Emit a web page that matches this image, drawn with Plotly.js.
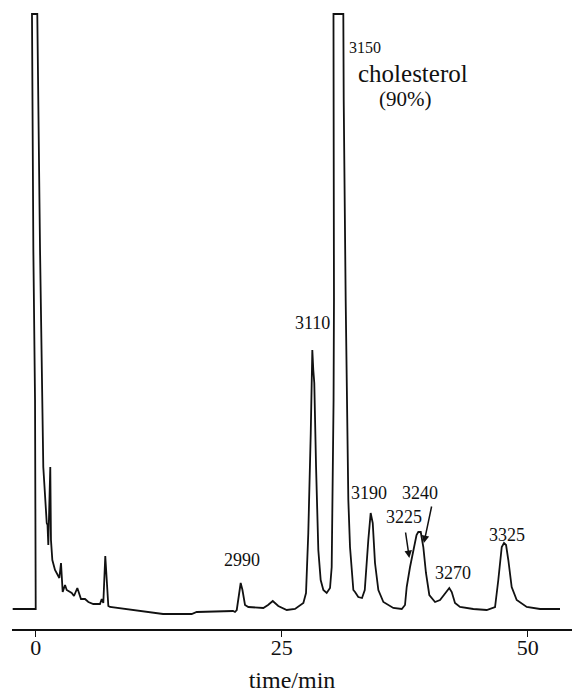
<!DOCTYPE html>
<html>
<head>
<meta charset="utf-8">
<script src="https://cdn.plot.ly/plotly-3.0.1.min.js"></script>
<style>html,body{margin:0;padding:0;background:#fff;}#chart{width:572px;height:693px;}</style>
</head>
<body>
<div id="chart"></div>
<script>
// retention time (min) and detector response (arbitrary units, baseline = 0; 595 = pen full scale)
const time = [
  -2.34, 0.00, -0.07, -0.24, -0.38, 0.16, 0.44, 0.67, 0.77, 1.12,
  1.20, 1.28, 1.35, 1.48, 1.55, 1.69, 1.96, 2.40, 2.57, 2.67,
  2.74, 2.98, 3.15, 3.66, 3.89, 4.23, 4.43, 4.60, 5.01, 5.35,
  5.85, 6.53, 6.71, 6.87, 7.07, 7.22, 7.38, 7.55, 9.92, 12.94,
  15.85, 16.36, 20.05, 20.25, 20.43, 20.59, 20.83, 21.01, 21.27, 21.61,
  23.13, 23.61, 24.09, 24.65, 25.51, 26.35, 27.20, 27.47, 27.70, 27.95,
  28.11, 28.21, 28.31, 28.49, 28.72, 28.96, 29.23, 29.57, 29.91, 30.08,
  30.18, 30.27, 30.31, 30.26, 31.26, 31.30, 31.50, 31.77, 31.94, 32.11,
  32.28, 32.45, 32.78, 33.16, 33.44, 33.80, 34.04, 34.25, 34.48, 34.82,
  35.33, 36.34, 37.20, 37.53, 37.70, 38.04, 38.45, 38.70, 38.88, 39.13,
  39.39, 39.66, 40.00, 40.58, 41.09, 41.60, 42.03, 42.28, 42.61, 43.12,
  44.47, 45.83, 46.68, 47.01, 47.36, 47.59, 47.80, 48.03, 48.37, 48.88,
  49.90, 51.25, 53.28
];
const signal = [
  0, 0, 209, 359, 595, 595, 359, 209, 142, 86,
  84, 64, 89, 142, 69, 49, 39, 31, 46, 29,
  17, 24, 19, 16, 13, 21, 14, 10, 10, 7,
  5, 5, 10, 6, 53, 29, 3, 2, -1, -5,
  -5, -3, -2, -3, -1, 9, 26, 19, 4, 2,
  1, 4, 8, 3, -1, 0, 6, 16, 76, 176,
  259, 239, 226, 142, 59, 29, 19, 16, 21, 42,
  109, 209, 309, 595, 595, 509, 309, 109, 62, 42,
  19, 17, 12, 11, 19, 69, 96, 86, 46, 19,
  7, 1, 0, 4, 22, 42, 62, 74, 77, 77,
  62, 36, 14, 7, 9, 16, 21, 17, 6, 2,
  0, -1, 2, 29, 62, 66, 64, 49, 22, 9,
  2, 0, 0
];

// peak labels (retention index) with label position in data units
const peakLabels = ['2990', '3110', '3190', '3225', '3240', '3270', '3325'];
const labelTime  = [20.97, 28.08, 33.90, 37.43, 39.05, 42.44, 47.87];
const labelSig   = [49, 286, 116, 92, 116, 36, 74];

const tickVals = [0, 25, 50];
const tickText = ['0', '25', '50'];

const serif = '"Liberation Serif", "DejaVu Serif", serif';

const annotations = peakLabels.map((t, i) => ({
  x: labelTime[i], y: labelSig[i], xref: 'x', yref: 'y',
  text: t, showarrow: false, font: {family: serif, size: 18, color: '#111'}
}));
annotations.push({x: 33.46, y: 562, xref: 'x', yref: 'y', text: '3150', showarrow: false,
  font: {family: serif, size: 16, color: '#111'}});
annotations.push({x: 38.37, y: 536, xref: 'x', yref: 'y', text: 'cholesterol', showarrow: false,
  font: {family: serif, size: 25, color: '#111'}});
annotations.push({x: 37.53, y: 510, xref: 'x', yref: 'y', text: '(90%)', showarrow: false,
  font: {family: serif, size: 21, color: '#111'}});
// arrows for 3225 and 3240
annotations.push({x: 37.97, y: 51, xref: 'x', yref: 'y', text: '', showarrow: true,
  ax: -4, ay: -27, arrowhead: 2, arrowsize: 1, arrowwidth: 1.5, arrowcolor: '#111', standoff: 0});
annotations.push({x: 39.45, y: 66, xref: 'x', yref: 'y', text: '', showarrow: true,
  ax: 8, ay: -38, arrowhead: 2, arrowsize: 1, arrowwidth: 1.5, arrowcolor: '#111', standoff: 0});

Plotly.newPlot('chart', [{
  x: time, y: signal, type: 'scatter', mode: 'lines',
  line: {color: '#111', width: 1.8, shape: 'linear'}, hoverinfo: 'skip'
}], {
  width: 572, height: 693,
  margin: {l: 12, r: 0, t: 9, b: 64},
  paper_bgcolor: '#fff', plot_bgcolor: '#fff',
  showlegend: false,
  font: {family: serif, color: '#111'},
  xaxis: {
    range: [-2.41, 54.5], showgrid: false, zeroline: false,
    showline: true, linecolor: '#111', linewidth: 1.5,
    ticks: 'outside', ticklen: 6, tickwidth: 1.5, tickcolor: '#111',
    tickvals: tickVals, ticktext: tickText,
    tickfont: {family: serif, size: 22, color: '#111'},
    ticklabelstandoff: -8,
    title: {text: 'time/min', font: {family: serif, size: 24, color: '#111'}, standoff: 19},
    automargin: false
  },
  yaxis: {range: [-20, 600], visible: false, showgrid: false, zeroline: false},
  annotations: annotations
}, {staticPlot: true, displayModeBar: false});
</script>
</body>
</html>
